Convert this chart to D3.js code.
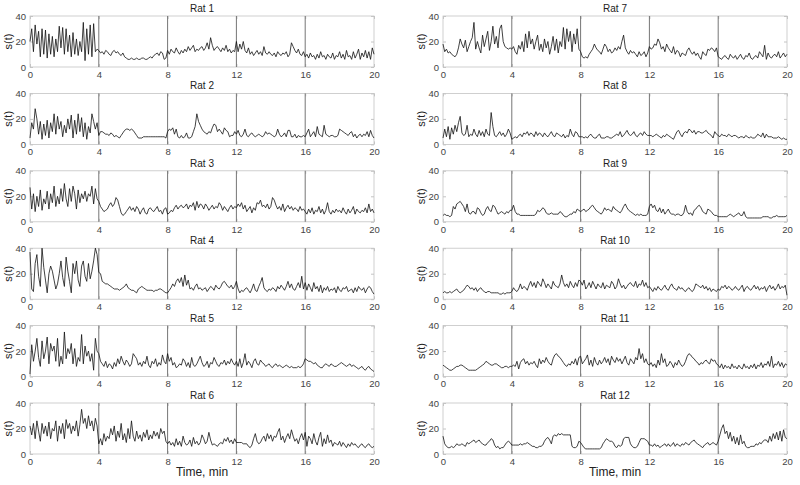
<!DOCTYPE html>
<html>
<head>
<meta charset="utf-8">
<script src="https://cdn.jsdelivr.net/npm/d3@7"></script>
<style>
  body { margin: 0; background: #fff; }
  svg { display: block; font-family: "Liberation Sans", Arial, sans-serif; }
</style>
</head>
<body>
<svg id="chart" width="800" height="485"></svg>
<script>
// DATA (one sample every 0.1 min, 0..20 min)
var sampleStep = 0.1;
var xTicks = [0, 4, 8, 12, 16, 20];
var yTicks = [0, 20, 40];
var phaseBreaks = [4, 8, 12, 16];
var titles = ["Rat 1", "Rat 2", "Rat 3", "Rat 4", "Rat 5", "Rat 6",
              "Rat 7", "Rat 8", "Rat 9", "Rat 10", "Rat 11", "Rat 12"];

var rat1 = [20,30,12,33,18,28,8,30,10,29, 7,26,10,24,8,22,12,32,15,31, 10,30,12,25,8,27,10,22,9,20, 12,35,5,30,10,33,8,34,12,14,
  13,11,12,10,13,12,10,9,12,13, 11,12,10,9,11,8,7,6,6,7, 6,6,7,6,6,7,7,6,6,7, 8,7,9,10,11,9,12,11,6,7,
  13,10,14,12,11,15,12,10,13,11, 14,12,16,13,15,17,12,14,13,15, 16,13,15,19,14,23,17,13,15,16, 14,12,15,13,17,12,14,11,13,12,
  20,12,18,14,20,13,11,15,10,12, 9,11,13,10,12,9,16,11,10,12, 10,9,11,8,12,10,9,11,10,12, 8,10,19,16,13,11,14,10,9,12,
  8,10,7,11,8,9,6,10,7,12, 8,9,6,10,8,7,11,6,9,8, 12,7,10,6,13,8,9,6,12,7, 10,14,6,11,8,13,7,12,6,15,10];
var rat2 = [5,17,12,28,20,8,18,4,16,7, 19,5,17,10,24,8,22,12,18,6, 15,9,20,12,23,5,19,8,24,10, 21,6,17,4,14,9,24,18,12,17,
  7,10,10,9,8,8,7,9,8,6, 7,6,5,7,9,11,12,12,11,12, 11,9,7,5,5,5,6,6,6,6, 6,6,6,6,6,6,6,6,6,5,
  10,12,11,13,8,12,6,5,7,5, 6,9,5,5,6,10,14,24,18,15, 12,10,9,8,10,9,13,16,15,10, 12,10,8,13,11,10,6,7,7,10,
  8,11,7,6,8,12,7,6,8,9, 7,6,7,8,7,6,7,10,8,9, 8,7,6,7,12,8,6,7,9,6, 11,11,6,6,8,5,7,6,6,7,
  6,9,12,6,8,10,6,14,8,7, 6,15,8,7,6,7,7,6,6,7, 12,11,10,9,8,7,9,10,6,8, 5,7,8,6,8,7,10,6,11,7,5];
var rat3 = [27,10,22,8,20,12,25,9,18,14, 24,10,22,15,28,12,20,14,26,16, 30,18,12,26,16,28,22,10,25,15, 22,18,24,16,22,20,28,14,26,18,
  16,12,10,8,9,10,13,15,12,14, 19,17,12,7,5,6,8,10,12,9, 11,8,12,10,6,9,11,7,6,10, 11,9,8,10,12,8,9,6,10,11,
  6,7,9,8,11,13,10,12,13,11, 12,14,10,13,12,15,9,16,11,14, 13,10,14,12,9,11,13,10,12,11, 15,13,9,12,10,8,11,13,10,12,
  11,14,12,15,10,13,8,10,12,7, 11,9,15,14,17,12,13,11,14,10, 12,19,17,13,10,12,9,14,8,11, 13,10,12,9,11,10,8,12,9,10,
  8,6,10,7,11,6,9,8,12,7, 10,6,9,15,8,6,9,7,10,8, 9,7,11,8,6,10,7,9,12,6, 10,8,7,9,8,11,7,14,8,10,7];
var rat4 = [37,8,6,28,35,18,10,40,25,15, 5,20,26,22,15,8,12,20,30,17, 10,33,22,14,5,28,20,30,15,10, 26,30,18,14,28,16,22,30,40,35,
  21,20,14,13,12,12,11,10,9,8, 8,8,7,8,9,10,12,9,8,7, 7,6,5,8,9,10,9,8,7,7, 7,7,6,7,7,8,8,7,6,5,
  5,7,9,12,10,14,16,13,17,10, 19,11,15,8,9,7,10,12,8,9, 7,8,9,6,8,10,9,7,11,9, 8,10,13,14,12,10,9,11,8,10,
  14,8,5,7,6,8,9,7,5,8, 12,7,6,10,13,17,9,7,6,8, 7,9,8,6,10,8,11,9,7,10, 14,9,12,8,7,10,13,9,18,8,
  13,7,12,9,6,13,8,10,6,11, 5,9,7,10,6,8,7,9,5,10, 7,6,9,8,10,6,7,8,5,9, 6,10,8,7,9,5,8,10,9,6,4];
var rat5 = [2,25,12,20,30,15,8,28,14,20, 31,10,26,20,24,12,30,8,16,10, 35,14,22,18,26,10,22,8,15,12, 33,10,24,16,20,12,18,5,30,20,
  18,12,10,8,12,7,10,9,6,11, 8,14,10,16,12,9,13,11,8,10, 18,16,14,9,11,8,12,10,16,9, 7,12,10,14,8,11,9,17,12,10,
  18,12,15,9,11,7,8,10,9,14, 12,8,11,7,15,9,8,10,13,16, 11,8,9,12,7,11,10,15,12,9, 8,11,10,13,9,12,10,14,11,9,
  12,8,14,7,11,18,9,12,10,7, 12,14,10,9,13,11,10,8,9,10, 8,7,9,10,8,9,8,7,8,9, 8,7,8,7,7,7,8,7,8,10,
  14,13,12,12,11,10,11,9,8,7, 7,9,10,9,8,10,9,8,8,9, 10,11,10,9,8,9,10,8,9,8, 7,6,7,8,6,5,7,8,6,5,4];
var rat6 = [22,15,24,12,26,18,10,24,16,22, 14,25,12,20,18,26,10,22,16,24, 12,27,20,24,16,22,18,26,14,23, 35,24,28,20,30,22,26,18,28,22,
  8,12,7,16,10,14,12,20,15,22, 10,18,13,24,11,16,9,20,12,26, 14,10,18,12,15,10,17,13,19,11, 15,12,18,14,17,12,20,16,18,10,
  8,10,7,9,6,12,7,10,6,14, 9,7,8,11,6,13,8,10,7,9, 15,12,8,10,17,11,7,8,7,6, 8,9,8,12,10,13,9,11,8,12,
  9,9,9,9,8,8,8,6,5,7, 12,16,10,8,9,12,14,10,16,12, 15,10,14,13,17,20,11,14,9,13, 16,12,19,14,10,12,8,13,16,11,
  17,6,14,12,8,16,10,7,13,17, 6,12,8,15,9,11,6,9,8,7, 10,6,9,7,5,8,6,9,7,8, 6,5,7,8,6,5,7,8,6,5,6];
var rat7 = [18,12,14,11,12,10,9,8,10,15, 22,18,15,21,12,16,20,23,35,14, 20,15,11,25,16,22,28,13,20,32, 18,24,15,30,33,20,16,15,14,15,
  14,16,12,10,17,14,20,12,26,15, 28,18,22,14,20,25,13,18,12,22, 15,20,10,16,24,13,22,11,20,16, 31,14,30,20,28,12,26,18,30,14,
  12,8,7,8,7,10,12,14,18,15, 13,12,10,14,18,16,12,14,11,12, 15,13,16,14,20,25,15,12,10,13, 11,12,10,8,12,9,10,12,8,11,
  16,14,15,18,17,22,19,14,16,12, 18,15,13,11,16,10,13,12,8,11, 10,9,13,15,12,10,12,9,11,8, 6,12,10,9,14,13,15,14,12,15,
  8,7,6,8,9,7,6,10,8,7, 9,6,8,10,7,6,9,8,11,7, 6,8,9,7,12,10,8,17,6,11, 8,7,9,10,8,12,7,9,11,8,10];
var rat8 = [5,12,6,14,4,13,8,15,10,17, 22,9,7,8,15,6,8,7,12,8, 6,11,7,10,6,12,8,7,25,14, 7,6,8,10,7,9,6,8,12,9,
  4,5,6,5,7,8,6,9,8,10, 7,9,8,6,10,7,9,8,6,9, 7,6,8,10,7,6,9,8,7,6, 8,5,7,6,12,8,6,10,9,6,
  6,6,5,6,5,7,8,6,5,5, 7,8,5,5,5,6,6,5,5,6, 7,8,7,10,6,7,9,11,8,7, 8,10,7,6,8,9,7,10,8,7,
  7,7,6,7,8,7,6,5,7,6, 8,7,6,5,4,7,10,11,8,6, 9,10,9,12,11,9,11,8,10,10, 9,9,10,11,9,8,7,5,10,8,
  7,6,8,7,7,6,8,7,6,7, 7,6,5,6,6,5,7,6,5,6, 5,5,6,8,7,6,9,5,8,6, 6,6,5,5,5,6,5,4,5,4,4];
var rat9 = [5,6,5,5,4,5,12,10,14,15, 16,14,12,8,14,7,6,8,8,6, 11,10,7,5,6,10,12,9,8,13, 12,9,6,7,8,7,6,8,7,9,
  9,13,8,6,6,5,5,5,5,5, 5,5,5,5,6,9,8,9,11,10, 7,6,6,7,6,6,6,6,8,7, 5,4,4,5,6,6,8,7,10,9,
  8,9,10,8,9,10,12,13,11,9, 8,7,6,8,11,9,10,9,8,12, 10,9,8,7,9,12,14,11,9,8, 7,6,5,6,5,6,5,5,5,6,
  12,14,11,13,9,8,11,7,10,6, 8,10,7,6,6,5,6,6,5,5, 7,13,8,6,7,5,9,10,12,13, 11,8,7,6,10,9,8,6,5,5,
  4,4,4,4,4,4,5,6,5,4, 5,6,7,5,5,8,4,3,3,3, 3,3,3,3,3,3,4,4,4,4, 3,3,4,4,5,4,4,4,4,4,5];
var rat10 = [5,6,5,5,6,5,6,7,8,6, 5,6,7,9,11,10,8,9,7,9, 6,8,9,7,6,5,6,6,5,5, 5,5,5,4,4,5,4,5,5,5,
  6,9,7,6,8,12,8,10,9,7, 11,14,10,13,9,14,12,10,16,13, 9,12,10,8,14,11,10,9,12,19, 13,10,12,9,14,11,9,13,10,15,
  14,11,15,8,10,13,9,14,11,8, 12,10,9,13,8,11,10,9,14,12, 8,10,16,12,9,11,8,10,12,13, 11,10,14,9,12,11,15,10,13,9,
  10,8,6,9,7,10,8,7,9,11, 8,7,10,12,9,8,7,10,8,9, 7,6,8,9,7,6,8,12,11,10, 9,11,8,10,7,9,6,8,7,6,
  8,7,10,9,11,8,10,9,7,8, 10,8,7,9,11,6,9,10,8,7, 9,11,8,10,7,9,8,10,6,9, 11,8,10,7,9,12,8,10,9,11,3];
var rat11 = [9,8,7,6,5,5,6,7,8,8, 9,9,8,7,6,5,5,5,5,5, 6,7,8,9,10,12,11,10,9,9, 10,10,9,8,7,7,8,8,7,8,
  8,9,8,12,6,11,13,14,10,12, 9,11,10,12,9,7,14,10,13,11, 15,12,10,9,14,17,18,16,15,13, 11,9,8,10,9,12,10,14,9,15,
  16,10,12,14,17,9,13,8,15,11, 9,13,10,12,15,11,14,9,16,13, 11,15,12,14,10,13,16,11,9,14, 12,10,15,13,22,14,18,11,14,10,
  9,11,8,10,7,13,9,18,11,14, 8,9,12,10,7,11,9,13,10,8, 9,12,16,18,17,15,14,12,11,9, 11,10,12,13,11,10,14,12,13,10,
  9,7,10,6,9,7,8,6,10,7, 8,6,9,7,6,10,7,8,6,9, 7,10,6,9,8,11,7,10,9,12, 8,16,7,10,9,12,8,11,7,10,9];
var rat12 = [14,8,6,5,5,6,5,6,8,7, 7,8,7,6,9,8,9,10,11,9, 10,11,9,8,7,7,9,10,12,11, 7,5,6,4,5,5,7,9,10,9,
  7,7,7,7,7,8,7,8,8,9, 8,7,6,6,5,5,6,6,7,10, 12,13,11,8,14,15,14,16,15,16, 15,15,15,15,15,6,5,5,6,10,
  9,7,5,4,4,4,4,4,4,4, 4,4,5,8,10,12,11,10,10,9, 6,5,7,6,7,12,13,13,13,8, 6,5,5,6,9,12,12,12,11,10,
  7,7,6,8,6,7,5,6,7,8, 6,8,6,7,9,6,8,7,6,8, 7,9,8,7,9,10,11,9,8,7, 6,5,7,8,9,7,8,9,8,7,
  10,15,20,23,16,18,12,17,10,14, 8,13,7,15,8,10,6,5,5,6, 6,6,8,7,9,8,10,11,11,9, 14,10,16,12,17,11,18,10,19,13,12];

var ratData = [rat1, rat2, rat3, rat4, rat5, rat6, rat7, rat8, rat9, rat10, rat11, rat12];

// LAYOUT
var colLeft = [30, 443];
var plotW = 344, plotH = 51;
var rowTop = function(r) { return 16 + r * 77.4; };

var svg = d3.select("#chart");

var x = d3.scaleLinear().domain([0, 20]).range([0, plotW]);
var y = d3.scaleLinear().domain([0, 40]).range([plotH, 0]);

ratData.forEach(function(vals, k) {
    var col = k < 6 ? 0 : 1;
    var row = k % 6;
    var g = svg.append("g")
        .attr("transform", "translate(" + colLeft[col] + "," + rowTop(row) + ")");

    // Box
    g.append("rect")
        .attr("width", plotW)
        .attr("height", plotH)
        .attr("fill", "none")
        .attr("stroke", "#c4c4c4")
        .attr("stroke-width", 0.8);

    // Axes (inward ticks like MATLAB)
    g.append("g")
        .attr("transform", "translate(0," + plotH + ")")
        .call(d3.axisBottom(x).tickValues(xTicks).tickSize(-3).tickPadding(4));
    g.append("g")
        .call(d3.axisLeft(y).tickValues(yTicks).tickSize(-3).tickPadding(4));
    g.append("g")
        .call(d3.axisTop(x).tickValues(xTicks).tickSize(-3).tickFormat(""));
    g.append("g")
        .attr("transform", "translate(" + plotW + ",0)")
        .call(d3.axisRight(y).tickValues(yTicks).tickSize(-3).tickFormat(""));

    g.selectAll(".domain").remove();
    g.selectAll(".tick line").attr("stroke", "#c4c4c4");
    g.selectAll(".tick text")
        .attr("fill", "#444")
        .style("font-size", "9.5px");

    // Phase boundaries
    g.selectAll(".phase")
        .data(phaseBreaks)
        .enter()
        .append("line")
            .attr("x1", d => x(d))
            .attr("x2", d => x(d))
            .attr("y1", 0)
            .attr("y2", plotH)
            .attr("stroke", "#767676")
            .attr("stroke-width", 1);

    // Trace
    g.append("path")
        .datum(vals)
        .attr("fill", "none")
        .attr("stroke", "#111")
        .attr("stroke-width", 0.8)
        .attr("stroke-linejoin", "round")
        .attr("d", d3.line()
            .x((d, i) => x(i * sampleStep))
            .y(d => y(d)));

    // Title
    g.append("text")
        .attr("x", plotW / 2)
        .attr("y", -4)
        .attr("text-anchor", "middle")
        .attr("fill", "#222")
        .style("font-size", "10px")
        .text(titles[k]);

    // Y label
    g.append("text")
        .attr("transform", "translate(-18," + plotH / 2 + ") rotate(-90)")
        .attr("text-anchor", "middle")
        .attr("fill", "#222")
        .style("font-size", "11px")
        .text("s(t)");

    if (row == 5) {
        g.append("text")
            .attr("x", plotW / 2)
            .attr("y", plotH + 22)
            .attr("text-anchor", "middle")
            .attr("fill", "#222")
            .style("font-size", "12px")
            .text("Time, min");
    }
});
</script>
</body>
</html>
